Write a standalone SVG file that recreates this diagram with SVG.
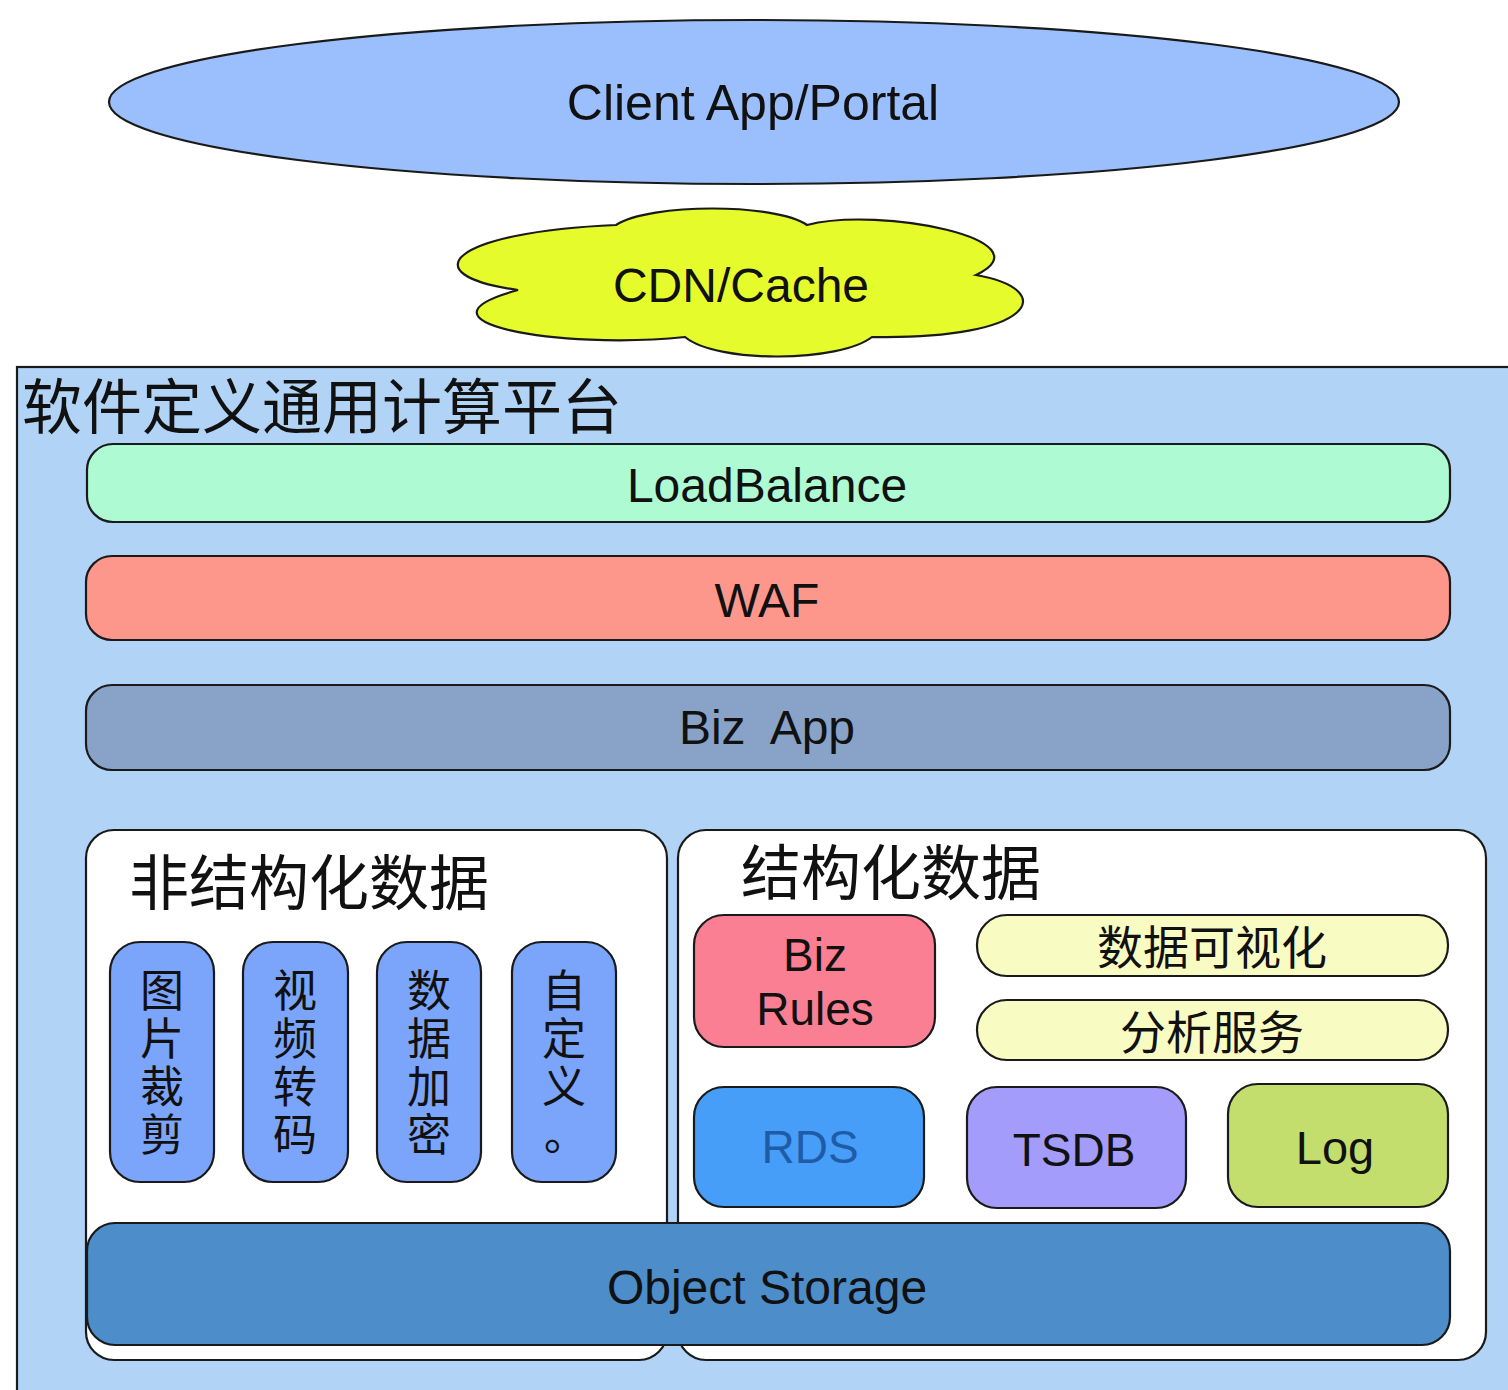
<svg xmlns="http://www.w3.org/2000/svg" width="1508" height="1390" viewBox="0 0 1508 1390">
<style>
.s{stroke:#1a1a1a;stroke-width:2.2}
.t{font-family:"Liberation Sans","Noto Sans CJK SC",sans-serif;fill:#111;text-anchor:middle}
.c{font-family:"Noto Sans CJK SC","Noto Sans CJK TC",sans-serif;fill:#111}
.cm{font-family:"Noto Sans CJK SC","Noto Sans CJK TC",sans-serif;fill:#111;font-size:44px;writing-mode:vertical-rl;text-orientation:upright;letter-spacing:4px}
.vb{fill:#7aa5fb}
</style>
<rect width="1508" height="1390" fill="#ffffff"/>
<g id="client">
<ellipse class="s" cx="754" cy="102" rx="645" ry="82" fill="#9bbffd"/>
<text class="t" x="753" y="120" font-size="50">Client App/Portal</text>
</g>
<g id="cdn">
<path class="s" fill="#e6fb2c" d="M518,290 C410,275 450,232 616,225 C650,203 775,203 807,225 C880,206 1050,240 976,275 C1060,290 1035,340 872,337 C840,362 718,364 685,337 C560,350 400,322 518,290 Z"/>
<text class="t" x="741" y="302" font-size="48">CDN/Cache</text>
</g>
<g id="platform">
<rect class="s" x="17" y="367" width="1500" height="1035" fill="#b1d3f5"/>
<text class="c" x="22" y="429" font-size="60">软件定义通用计算平台</text>
</g>
<g id="loadbalance">
<rect class="s" x="87" y="444" width="1363" height="78" rx="26" fill="#adfad3"/>
<text class="t" x="767" y="502" font-size="48">LoadBalance</text>
</g>
<g id="waf">
<rect class="s" x="86" y="556" width="1364" height="84" rx="26" fill="#fe978b"/>
<text class="t" x="767" y="617" font-size="48">WAF</text>
</g>
<g id="bizapp">
<rect class="s" x="86" y="685" width="1364" height="85" rx="26" fill="#88a3c7"/>
<text class="t" x="767" y="744" font-size="48" xml:space="preserve">Biz  App</text>
</g>
<g id="unstructured">
<rect class="s" x="86" y="830" width="581" height="530" rx="28" fill="#ffffff"/>
<text class="c" x="129" y="905" font-size="60">非结构化数据</text>
</g>
<g id="structured">
<rect class="s" x="678" y="830" width="808" height="530" rx="28" fill="#ffffff"/>
<text class="c" x="741" y="895" font-size="60">结构化数据</text>
</g>
<g id="img-crop">
<rect class="s vb" x="110" y="942" width="104" height="240" rx="30"/>
<text class="cm" x="162" y="968">图片裁剪</text>
</g>
<g id="video">
<rect class="s vb" x="243" y="942" width="105" height="240" rx="30"/>
<text class="cm" x="295" y="968">视频转码</text>
</g>
<g id="encrypt">
<rect class="s vb" x="377" y="942" width="104" height="240" rx="30"/>
<text class="cm" x="429" y="968">数据加密</text>
</g>
<g id="custom">
<rect class="s vb" x="512" y="942" width="104" height="240" rx="30"/>
<text class="cm" x="564" y="968">自定义<tspan dx="-25" dy="25">。</tspan></text>
</g>
<g id="bizrules">
<rect class="s" x="694" y="915" width="241" height="132" rx="30" fill="#fb7f93"/>
<text class="t" x="815" y="971" font-size="46">Biz</text>
<text class="t" x="815" y="1025" font-size="46">Rules</text>
</g>
<g id="dataviz">
<rect class="s" x="977" y="915" width="471" height="61" rx="30" fill="#f8fcc2"/>
<text class="c" x="1212" y="964" font-size="46" text-anchor="middle">数据可视化</text>
</g>
<g id="analysis">
<rect class="s" x="977" y="1000" width="471" height="60" rx="30" fill="#f8fcc2"/>
<text class="c" x="1212" y="1049" font-size="46" text-anchor="middle">分析服务</text>
</g>
<g id="rds">
<rect class="s" x="694" y="1087" width="230" height="120" rx="30" fill="#469ef8"/>
<text class="t" x="810" y="1163" font-size="46" style="fill:#1f5ca8">RDS</text>
</g>
<g id="tsdb">
<rect class="s" x="967" y="1087" width="219" height="121" rx="30" fill="#a39cfb"/>
<text class="t" x="1074" y="1166" font-size="46">TSDB</text>
</g>
<g id="log">
<rect class="s" x="1228" y="1084" width="220" height="123" rx="30" fill="#c4de6e"/>
<text class="t" x="1335" y="1164" font-size="47">Log</text>
</g>
<g id="objectstorage">
<rect class="s" x="87" y="1223" width="1363" height="122" rx="28" fill="#4c8dca"/>
<text class="t" x="767" y="1304" font-size="48">Object Storage</text>
</g>
<g id="connectors"></g>
</svg>
